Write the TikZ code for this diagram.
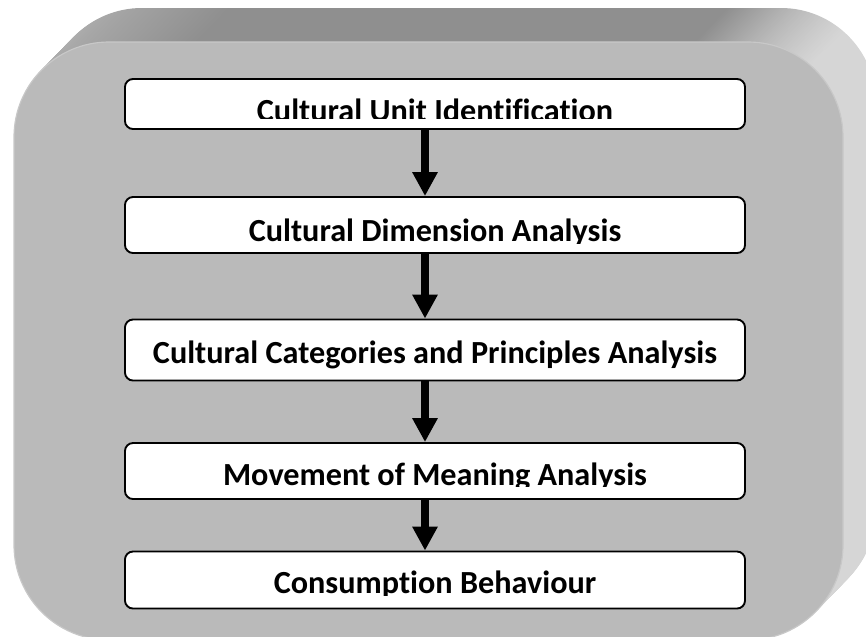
\documentclass[tikz,border=0pt]{standalone}
\usepackage{fontspec}
\setmainfont{Carlito}[Ligatures=NoCommon]
\usepackage{xcolor}
\usetikzlibrary{arrows.meta,positioning,calc}
\definecolor{frontgrey}{RGB}{186,186,186}
\definecolor{edgegrey}{RGB}{200,200,200}
\definecolor{extleft}{RGB}{176,176,176}
\definecolor{extmid}{RGB}{143,143,143}
\definecolor{extright}{RGB}{214,214,214}
\pgfdeclarehorizontalshading{extrude}{100bp}{color(0bp)=(extleft); color(26bp)=(extleft); color(36bp)=(extmid); color(66bp)=(extmid); color(73bp)=(extright); color(100bp)=(extright)}
\tikzset{
    stagebox/.style={rectangle, rounded corners=0.24cm, draw=black, line width=1.6pt, fill=white, minimum width=18.6cm},
    stagetext/.style={anchor=base, inner sep=0pt, font=\bfseries\fontsize{27.5}{31}\selectfont},
    flow/.style={-{Triangle[width=0.72cm,length=0.72cm]}, line width=0.24cm}
}

\begin{document}
\begin{tikzpicture}[x=0.03cm, y=-0.03cm]
    \useasboundingbox (0,0) rectangle (866,636);
    \clip (0,0) rectangle (866,636);
    \fill[white] (0,0) rectangle (866,636);

    % Extruded panel behind the steps
    \foreach \k in {34,33,...,1}
        \shade[shading=extrude, rounded corners=2.85cm, shift={(0.97*\k,-\k)}] (14,42) rectangle (843,640);
    \filldraw[fill=frontgrey, draw=edgegrey, line width=1pt, rounded corners=2.85cm] (14,42) rectangle (843,640);

    % Analysis steps
    \foreach \n/\yc/\hgt/\base/\cut/\stagename in {
        1/104/1.50cm/121/118/Cultural Unit Identification,
        2/225/1.68cm/241/243/Cultural Dimension Analysis,
        3/350/1.83cm/363/380/Cultural Categories and Principles Analysis,
        4/471/1.68cm/485/486/Movement of Meaning Analysis,
        5/580/1.71cm/593/595/Consumption Behaviour
    } {
        \node[stagebox, minimum height=\hgt] (s\n) at (435,\yc) {};
        \begin{scope}
            \clip (s\n.north west) rectangle (745,\cut);
            \node[stagetext] (t\n) at (435,\base) {\stagename};
        \end{scope}
    }

    % Flow between steps
    \foreach \a/\b in {1/2,2/3,3/4,4/5}
        \draw[flow] ([xshift=-0.3cm]s\a.south) -- ([xshift=-0.3cm]s\b.north);

\end{tikzpicture}
\end{document}
